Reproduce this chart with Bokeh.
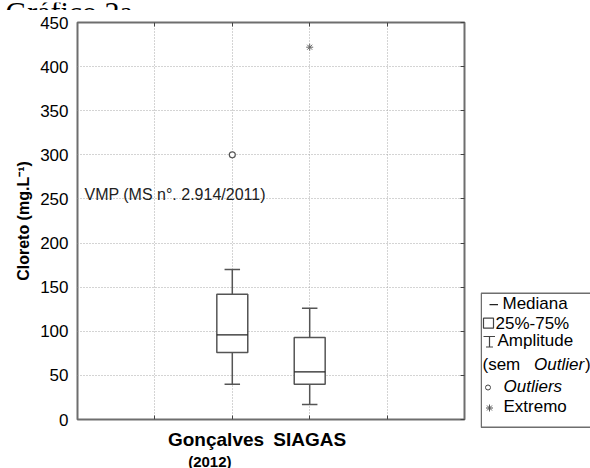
from bokeh.plotting import figure
from bokeh.models import Range1d, FixedTicker, Label, LinearAxis
from bokeh.layouts import row, column
from bokeh.embed import file_html
from bokeh.resources import INLINE
from bokeh.core.properties import value

# ---------------- data ----------------
categories = ["Gonçalves", "SIAGAS"]
category_label_shift = [-0.21, 0.0]
category_notes = ["(2012)", ""]
category_note_shift = [-0.29, 0.0]
x_pos = [2, 3]
lower_whisker = [40, 17]
q1 = [76, 40]
median = [96, 54]
q3 = [142, 93]
upper_whisker = [170, 126]
outlier_x = [2]
outlier_y = [300]
extreme_x = [3]
extreme_y = [422]
y_ticks = [0, 50, 100, 150, 200, 250, 300, 350, 400, 450]
x_grid_ticks = [1, 2, 3, 4]
ref_label = "VMP (MS n°. 2.914/2011)"
ref_value = 250
title_text = "Gráfico 2a."
y_label = "Cloreto (mg.L⁻¹)"

FONT = "Liberation Sans"
BOX_W = 0.4
CAP_W = 0.2
LINE_C = "#555555"
TICK_C = "#444444"


def blank_axis_labels(ax, ticks):
    ax.major_label_overrides = {t: "" for t in ticks}
    ax.major_label_text_color = None
    ax.major_label_standoff = 0


# ---------------- title strip (title is cut at top of the page) ----------------
tf = figure(width=590, height=10, x_range=Range1d(0, 590), y_range=Range1d(10, 0),
            output_backend="svg", toolbar_location=None, min_border=0,
            x_axis_type=None, y_axis_type=None)
tf.frame_align = False
tf.outline_line_color = None
tf.grid.visible = False
tf.text(x=[5], y=[9], text=[title_text], text_font=value("Liberation Serif"),
        text_font_size="30px", text_baseline="alphabetic", text_color="black")

# ---------------- main figure ----------------
p = figure(width=480, height=444, x_range=Range1d(0, 5), y_range=Range1d(0, 450),
           output_backend="svg", toolbar_location=None,
           min_border_left=77, min_border_right=16, min_border_top=12, min_border_bottom=35)
p.frame_align = False
p.outline_line_color = "#6e6e6e"
p.outline_line_width = 2
p.background_fill_color = "white"
p.border_fill_color = "white"

xa = p.xaxis[0]
xa.ticker = FixedTicker(ticks=x_grid_ticks)
blank_axis_labels(xa, x_grid_ticks)
xa.major_tick_in = 4
xa.major_tick_out = 0
xa.major_tick_line_color = TICK_C
xa.minor_tick_line_color = None
xa.axis_line_color = None

label_ticks = [x + s for x, s in zip(x_pos, category_label_shift)]
la = LinearAxis(ticker=FixedTicker(ticks=label_ticks),
                major_label_overrides={t: c for t, c in zip(label_ticks, categories)},
                major_label_text_font=FONT, major_label_text_font_size="19px",
                major_label_text_font_style="bold", major_label_text_color="black",
                major_label_standoff=9, major_tick_in=0, major_tick_out=0,
                major_tick_line_color=None, minor_tick_line_color=None, axis_line_color=None)
p.add_layout(la, "below")

ya = p.yaxis[0]
ya.ticker = FixedTicker(ticks=y_ticks)
ya.major_label_text_font = FONT
ya.major_label_text_font_size = "17px"
ya.major_label_text_color = "black"
ya.major_label_standoff = 9
ya.major_tick_in = 0
ya.major_tick_out = 0
ya.minor_tick_line_color = None
ya.axis_line_color = None
ya.axis_label = y_label
ya.axis_label_text_font = FONT
ya.axis_label_text_font_size = "16px"
ya.axis_label_text_font_style = "bold"
ya.axis_label_text_color = "black"
ya.axis_label_standoff = 5

ra = LinearAxis(ticker=FixedTicker(ticks=y_ticks), major_tick_in=4, major_tick_out=0,
                major_tick_line_color=TICK_C, minor_tick_line_color=None, axis_line_color=None)
blank_axis_labels(ra, y_ticks)
p.add_layout(ra, "right")
ta = LinearAxis(ticker=FixedTicker(ticks=x_grid_ticks), major_tick_in=4, major_tick_out=0,
                major_tick_line_color=TICK_C, minor_tick_line_color=None, axis_line_color=None)
blank_axis_labels(ta, x_grid_ticks)
p.add_layout(ta, "above")

p.xgrid.ticker = FixedTicker(ticks=x_grid_ticks)
p.grid.grid_line_color = "#a8a8a8"
p.grid.grid_line_dash = "1 2"
p.grid.grid_line_width = 1

# whiskers
p.segment(x0=x_pos, y0=q3, x1=x_pos, y1=upper_whisker, line_color=LINE_C, line_width=1.5)
p.segment(x0=x_pos, y0=lower_whisker, x1=x_pos, y1=q1, line_color=LINE_C, line_width=1.5)
p.segment(x0=[x - CAP_W / 2 for x in x_pos], y0=upper_whisker,
          x1=[x + CAP_W / 2 for x in x_pos], y1=upper_whisker, line_color=LINE_C, line_width=1.5)
p.segment(x0=[x - CAP_W / 2 for x in x_pos], y0=lower_whisker,
          x1=[x + CAP_W / 2 for x in x_pos], y1=lower_whisker, line_color=LINE_C, line_width=1.5)
# boxes
p.vbar(x=x_pos, width=BOX_W, bottom=q1, top=q3, fill_color="white",
       line_color=LINE_C, line_width=1.5)
# medians
p.segment(x0=[x - BOX_W / 2 for x in x_pos], y0=median,
          x1=[x + BOX_W / 2 for x in x_pos], y1=median, line_color="#222222", line_width=1.3)
# outliers / extremes
p.scatter(x=outlier_x, y=outlier_y, marker="circle", size=6, fill_color="white",
          line_color=LINE_C, line_width=1.2)
p.scatter(x=extreme_x, y=extreme_y, marker="asterisk", size=7, line_color="#666666", line_width=1)

p.add_layout(Label(x=0.09, y=ref_value, y_offset=4, text=ref_label, text_font=FONT,
                   text_font_size="16px", text_color="#222222", text_baseline="alphabetic"))

# ---------------- legend figure (data coords = page pixels) ----------------
lg = figure(width=110, height=444, x_range=Range1d(480, 590), y_range=Range1d(454, 10),
            output_backend="svg", toolbar_location=None, min_border=0,
            x_axis_type=None, y_axis_type=None)
lg.frame_align = False
lg.outline_line_color = None
lg.grid.visible = False
lg.background_fill_color = "white"
lg.border_fill_color = "white"

lg.multi_line(xs=[[600, 480.75, 480.75, 600]], ys=[[292.7, 292.7, 426.7, 426.7]],
              line_color="#6e6e6e", line_width=1.5)

rows_y = [302.7, 322.7, 340, 364, 385.5, 405.5]
TXT = dict(text_font=FONT, text_font_size="17px", text_color="black", text_baseline="middle")
SYM_C = "#444444"

lg.segment(x0=[489], y0=[rows_y[0] + 1.5], x1=[497.5], y1=[rows_y[0] + 1.5],
           line_color="#222222", line_width=1.2)
lg.add_layout(Label(x=502, y=rows_y[0], text="Mediana", **TXT))
lg.quad(left=[483], right=[493], top=[rows_y[1] - 5], bottom=[rows_y[1] + 5], fill_color=None,
        line_color=SYM_C, line_width=1.2)
lg.add_layout(Label(x=495, y=rows_y[1], text="25%-75%", **TXT))
lg.segment(x0=[483, 489, 485.5], y0=[rows_y[2] - 4, rows_y[2] - 4, rows_y[2] + 6.5],
           x1=[494.5, 489, 492.5], y1=[rows_y[2] - 4, rows_y[2] + 6.5, rows_y[2] + 6.5],
           line_color=SYM_C, line_width=1.2)
lg.add_layout(Label(x=497, y=rows_y[2], text="Amplitude", **TXT))
lg.add_layout(Label(x=482, y=rows_y[3], text="(sem", **TXT))
lg.add_layout(Label(x=533.5, y=rows_y[3], text="Outlier", text_font_style="italic", **TXT))
lg.add_layout(Label(x=584.5, y=rows_y[3], text=")", **TXT))
lg.scatter(x=[487.5], y=[rows_y[4] + 1.5], marker="circle", size=5, fill_color="white",
           line_color=SYM_C, line_width=1)
lg.add_layout(Label(x=503, y=rows_y[4], text="Outliers", text_font_style="italic", **TXT))
lg.scatter(x=[489], y=[rows_y[5] + 2], marker="asterisk", size=7, line_color="#555555", line_width=1)
lg.add_layout(Label(x=503, y=rows_y[5], text="Extremo", **TXT))

# ---------------- note strip below (same x mapping as main frame) ----------------
nf = figure(width=590, height=14, x_range=Range1d(0, 5), y_range=Range1d(0, 1),
            output_backend="svg", toolbar_location=None,
            min_border_left=77, min_border_right=126, min_border_top=0, min_border_bottom=0,
            x_axis_type=None, y_axis_type=None)
nf.frame_align = False
nf.outline_line_color = None
nf.grid.visible = False
note_x = [x + s for x, s, n in zip(x_pos, category_note_shift, category_notes) if n]
note_t = [n for n in category_notes if n]
nf.text(x=note_x, y=[0.5] * len(note_x), text=note_t, text_font=value(FONT),
        text_font_size="15px", text_font_style="bold", text_align="center",
        text_baseline="middle", text_color="black")

layout = column(tf, row(p, lg), nf)
open("out.html", "w").write(file_html(layout, INLINE))
